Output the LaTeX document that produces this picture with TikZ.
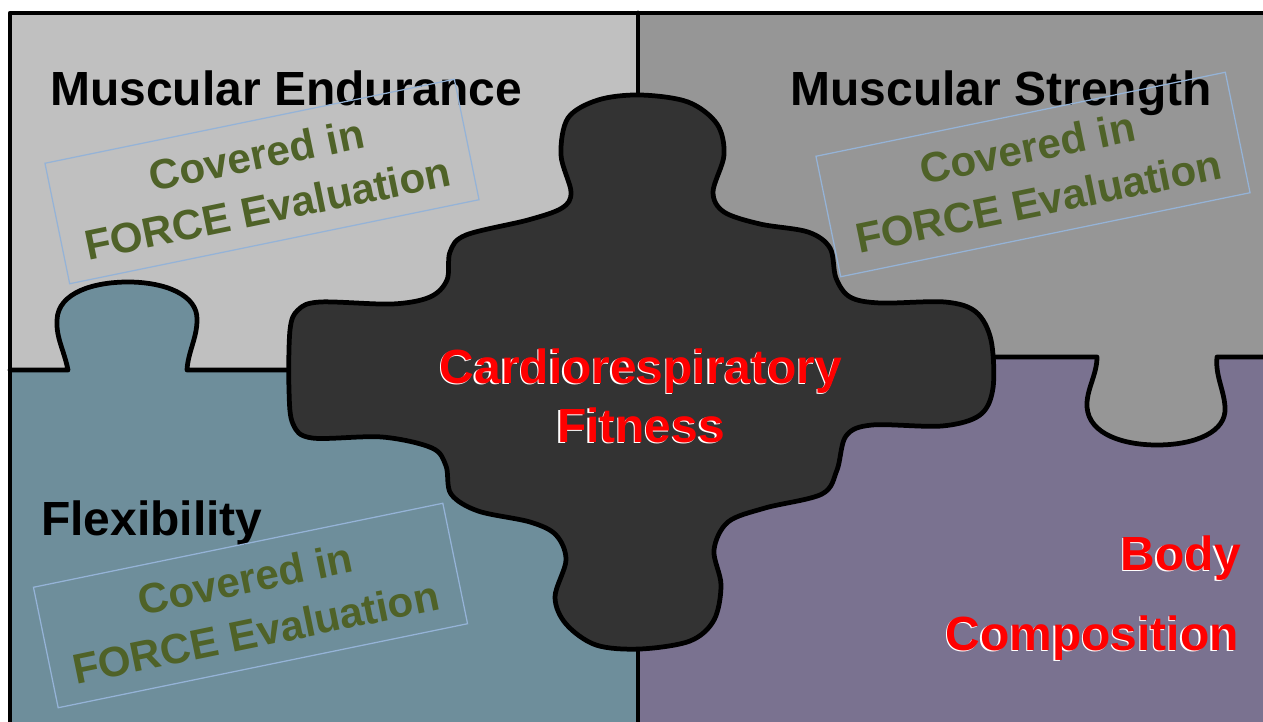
\documentclass[tikz,border=0pt]{standalone}
\usepackage{fontspec}
\setmainfont{Liberation Sans}
\usetikzlibrary{positioning}

\definecolor{endurgray}{HTML}{C0C0C0}
\definecolor{strengray}{HTML}{969696}
\definecolor{flexblue}{HTML}{6E8E9B}
\definecolor{bodypurple}{HTML}{7A7290}
\definecolor{cardiodark}{HTML}{333333}
\definecolor{covergreen}{HTML}{4F6228}
\definecolor{coverblue}{HTML}{95B3D7}

% white copy a little down-left, red on top
\newcommand{\shadowtext}[1]{\makebox[0pt][l]{\kern-0.8pt\raisebox{-0.8pt}{\color{white}#1}}#1}

\tikzset{
  outline/.style={line width=0.095cm, line join=round, line cap=round, black},
  title/.style={font=\fontsize{27.3pt}{33pt}\selectfont\bfseries, inner sep=0pt},
  redlabel/.style={font=\fontsize{27.3pt}{33pt}\selectfont\bfseries, text=red, inner sep=0pt},
  coverbox/.style={draw=coverblue, line width=0.025cm, rotate=11.6,
    minimum width=8.36cm, minimum height=2.46cm, align=center, inner sep=0pt,
    text=covergreen, font=\fontsize{24pt}{31pt}\selectfont\bfseries}
}

\begin{document}
\begin{tikzpicture}[x=0.02cm, y=-0.02cm]
  \useasboundingbox (0,0) rectangle (1263,722);
  \clip (0,0) rectangle (1263,722);

  % four corner pieces
  \fill[endurgray] (10,13) rectangle (638,370);
  \fill[strengray] (638,13) rectangle (1280,357);
  \fill[flexblue] (10,370) rectangle (638,740);
  \fill[bodypurple] (638,357) rectangle (1280,740);

  % tabs
  \fill[flexblue] (68,372) .. controls (64,350) and (56,338) .. (57,320)
    .. controls (58,292) and (95,282) .. (128,282)
    .. controls (165,282) and (198,295) .. (197,320)
    .. controls (197,338) and (188,352) .. (187,372) -- cycle;
  \fill[strengray] (1097,355) .. controls (1097,375) and (1086,390) .. (1087,407)
    .. controls (1089,435) and (1125,445) .. (1157,445)
    .. controls (1195,445) and (1227,432) .. (1225,407)
    .. controls (1224,390) and (1215,375) .. (1217,355) -- cycle;

  % frame and seams
  \draw[outline] (1280,13) -- (10,13) -- (10,740);
  \draw[outline] (638,13) -- (638,120);
  \draw[outline] (638,620) -- (638,740);
  \draw[outline] (10,370) -- (68,370) .. controls (64,350) and (56,338) .. (57,320)
    .. controls (58,292) and (95,282) .. (128,282)
    .. controls (165,282) and (198,295) .. (197,320)
    .. controls (197,338) and (188,352) .. (187,370) -- (300,370);
  \draw[outline] (980,357) -- (1097,357) .. controls (1097,375) and (1086,390) .. (1087,407)
    .. controls (1089,435) and (1125,445) .. (1157,445)
    .. controls (1195,445) and (1227,432) .. (1225,407)
    .. controls (1224,390) and (1215,375) .. (1217,357) -- (1280,357);

  % centre piece
  \draw[outline, fill=cardiodark] plot[smooth cycle, tension=0.55] coordinates {
    (571,192) (561,155) (568,118) (598,100) (640,95) (688,102) (717,124) (724,155)
    (713,192) (724,212) (760,224) (808,232) (830,248) (836,278) (850,297) (880,303)
    (945,302) (976,312) (991,340) (993,388) (980,415) (942,426) (872,425) (846,436)
    (837,470) (822,494) (765,508) (728,522) (714,550) (721,585) (714,620) (690,641)
    (640,649) (596,645) (566,624) (555,597) (566,560) (556,535) (530,522) (478,511)
    (451,494) (446,466) (432,448) (382,437) (312,438) (293,424) (289,390) (290,330)
    (298,310) (320,302) (392,304) (430,297) (447,280) (450,252) (466,235) (528,220)
    (562,208)};

  % piece titles
  \node[title, anchor=base west] (endurance) at (50,106) {Muscular Endurance};
  \node[title, anchor=base east] (strength) at (1212,106) {Muscular Strength};
  \node[title, anchor=base west] (flexibility) at (41,535) {Flexibility};

  % covered notes
  \node[coverbox] (coverEndurance) at (262,181.5) {Covered in\\FORCE Evaluation};
  \node[coverbox] (coverStrength) at (1033,174.5) {Covered in\\FORCE Evaluation};
  \node[coverbox] (coverFlexibility) at (250.5,605.5) {Covered in\\FORCE Evaluation};

  % red labels
  \node[redlabel, anchor=base] (cardio) at (641,383) {\shadowtext{Cardiorespiratory}};
  \node[redlabel, anchor=base] (fitness) at (641,442) {\shadowtext{Fitness}};
  \node[redlabel, anchor=base east] (body) at (1241,570) {\shadowtext{Body}};
  \node[redlabel, anchor=base east] (composition) at (1239,650) {\shadowtext{Composition}};
\end{tikzpicture}
\end{document}
